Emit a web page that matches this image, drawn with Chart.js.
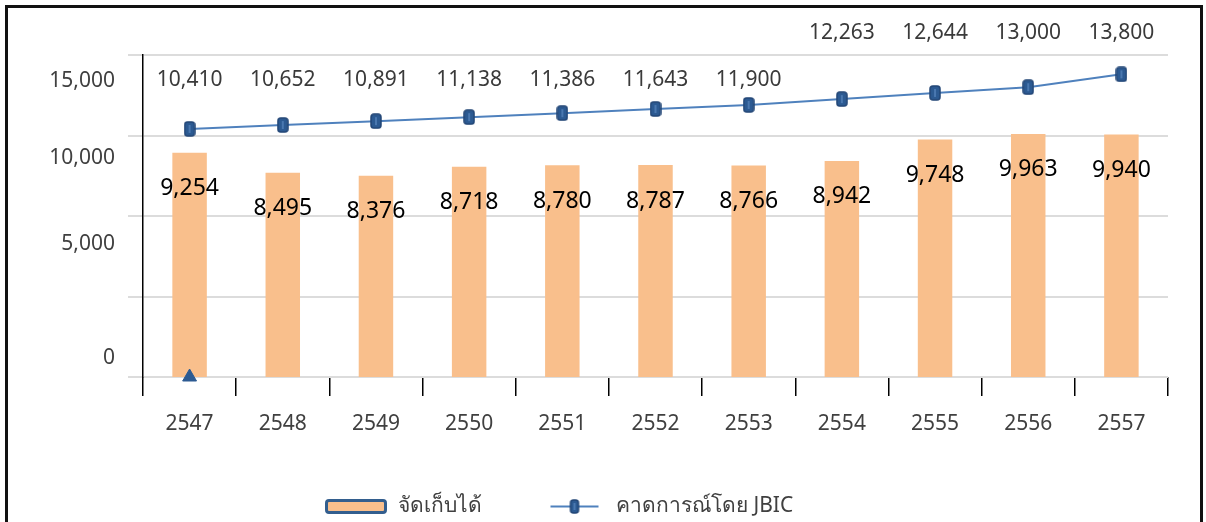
<!DOCTYPE html>
<html><head><meta charset="utf-8">
<script src="https://cdn.jsdelivr.net/npm/chart.js@4"></script>
<style>
html,body{margin:0;padding:0;background:#fff;overflow:hidden}
#wrap{position:relative;width:1206px;height:522px}
#frame{position:absolute;left:5px;top:5px;width:1198px;height:560px;border:3px solid #111;box-sizing:border-box;pointer-events:none}
canvas{position:absolute;left:0;top:0}
</style></head><body>
<div id="wrap"><canvas id="c" width="1206" height="522"></canvas><div id="frame"></div></div>
<script>
// ---- data ----
const years = ['2547','2548','2549','2550','2551','2552','2553','2554','2555','2556','2557'];
const collected = [9254, 8495, 8376, 8718, 8780, 8787, 8766, 8942, 9748, 9963, 9940];
const forecastJBIC = [10410, 10652, 10891, 11138, 11386, 11643, 11900, 12263, 12644, 13000, 13800];
const baseMarker = [0, null, null, null, null, null, null, null, null, null, null];
const yTickLabels = ['0', '5,000', '10,000', '15,000'];
const seriesNames = ['จัดเก็บได้', 'คาดการณ์โดย JBIC'];

const FONT = '"Noto Sans", "DejaVu Sans", sans-serif';
const fmt = v => v.toLocaleString('en-US');

function roundRect(g, x, y, w, h, r) {
  g.beginPath();
  g.moveTo(x + r, y); g.lineTo(x + w - r, y); g.quadraticCurveTo(x + w, y, x + w, y + r);
  g.lineTo(x + w, y + h - r); g.quadraticCurveTo(x + w, y + h, x + w - r, y + h);
  g.lineTo(x + r, y + h); g.quadraticCurveTo(x, y + h, x, y + h - r);
  g.lineTo(x, y + r); g.quadraticCurveTo(x, y, x + r, y); g.closePath();
}
function makeMarker(w, h) {
  const c = document.createElement('canvas'); c.width = w; c.height = h;
  const g = c.getContext('2d');
  roundRect(g, 1, 1, w - 2, h - 2, 3);
  g.fillStyle = '#2C5A92'; g.fill();
  g.lineWidth = 1.5; g.strokeStyle = '#224676'; g.stroke();
  g.fillStyle = '#4A78B0'; g.fillRect(w / 2 - 1, 4, 2, h - 8);
  return c;
}
function makeBarLegend() {
  const c = document.createElement('canvas'); c.width = 62; c.height = 15;
  const g = c.getContext('2d');
  roundRect(g, 1.5, 1.5, 59, 12, 2.5);
  g.fillStyle = '#F9BF8C'; g.fill();
  g.lineWidth = 3; g.strokeStyle = '#335E8E'; g.stroke();
  return c;
}
function makeLineLegend() {
  const c = document.createElement('canvas'); c.width = 52; c.height = 15;
  const g = c.getContext('2d');
  g.strokeStyle = '#4F81BD'; g.lineWidth = 2;
  g.beginPath(); g.moveTo(2, 7.5); g.lineTo(50, 7.5); g.stroke();
  const m = makeMarker(10, 15);
  g.drawImage(m, 21, 0);
  return c;
}
const markerImg = makeMarker(12, 16);
const barLegendImg = makeBarLegend();
const lineLegendImg = makeLineLegend();

const valueLabels = {
  id: 'valueLabels',
  afterDatasetsDraw(chart) {
    const ctx = chart.ctx, ca = chart.chartArea;
    const barMeta = chart.getDatasetMeta(1);
    const lineMeta = chart.getDatasetMeta(2);
    ctx.save();
    ctx.textAlign = 'center'; ctx.textBaseline = 'middle';
    ctx.font = '23px ' + FONT; ctx.fillStyle = '#000';
    barMeta.data.forEach((el, i) => ctx.fillText(fmt(collected[i]), el.x, el.y + 36));
    ctx.font = '21px ' + FONT; ctx.fillStyle = '#3a3a3a';
    lineMeta.data.forEach((el, i) => {
      const v = forecastJBIC[i];
      const y = v >= 12000 ? ca.top - 22 : ca.top + 25;
      ctx.fillText(fmt(v), el.x, y);
    });
    ctx.restore();
  }
};
const legendPlace = {
  id: 'legendPlace',
  afterLayout(chart) {
    const lg = chart.legend;
    if (!lg) return;
    const p = lg.options.labels.padding;
    lg.left = 325 - p;
    lg.top = 496 - p;
    lg.bottom = 522;
  }
};

new Chart(document.getElementById('c'), {
  data: {
    labels: years,
    datasets: [
      { type: 'line', label: 'base', data: baseMarker, yAxisID: 'y', showLine: false, clip: false,
        pointStyle: 'triangle', pointRadius: 8, pointBackgroundColor: '#2C5A92', pointBorderColor: '#2C5A92', order: 0 },
      { type: 'bar', label: seriesNames[0], data: collected, yAxisID: 'yBar',
        backgroundColor: '#F9BF8C', borderWidth: 0, barPercentage: 0.37, categoryPercentage: 1, order: 2 },
      { type: 'line', label: seriesNames[1], data: forecastJBIC, yAxisID: 'yLine',
        borderColor: '#4F81BD', borderWidth: 2, tension: 0, pointStyle: markerImg, pointRadius: 6, order: 1 }
    ]
  },
  options: {
    responsive: false, animation: false, events: [],
    layout: { padding: { left: 0, right: 38, top: 55, bottom: 0 } },
    font: { family: FONT },
    scales: {
      x: {
        offset: true,
        grid: { offset: true, drawOnChartArea: false, tickLength: 19, color: '#000', lineWidth: 1.5 },
        border: { display: false },
        afterFit: s => { s.height = 64; },
        ticks: { color: '#404040', font: { size: 21, family: FONT }, padding: 15 }
      },
      yl: {
        position: 'left', min: 0, max: 20000, weight: 2,
        grid: { display: false }, border: { display: false },
        afterBuildTicks: s => { s.ticks = [1150, 8250, 13600, 18380].map(v => ({ value: v })); },
        afterFit: s => { s.width = 128; },
        ticks: { color: '#404040', font: { size: 21, family: FONT }, padding: 5,
          callback: (v, i) => yTickLabels[i] }
      },
      y: {
        position: 'left', min: 0, max: 20000, weight: 1,
        ticks: { display: false, stepSize: 5000 },
        afterFit: s => { s.width = 15; },
        grid: { color: '#DCDCDC', lineWidth: 2, tickLength: 15 },
        border: { color: '#000', width: 1.5 }
      },
      yBar: { display: false, min: 768, max: 12947 },
      yLine: { display: false, min: -5000, max: 15000 }
    },
    plugins: {
      tooltip: { enabled: false },
      legend: {
        position: 'bottom', align: 'start', maxHeight: 81,
        labels: {
          usePointStyle: true, pointStyleWidth: 62, padding: 62,
          color: '#404040', font: { size: 21, family: FONT },
          generateLabels: chart => {
            return [1, 2].map(i => ({
              text: chart.data.datasets[i].label,
              pointStyle: i === 1 ? barLegendImg : lineLegendImg,
              fillStyle: 'transparent', strokeStyle: 'transparent', lineWidth: 0,
              datasetIndex: i, hidden: false, fontColor: '#404040'
            }));
          }
        }
      }
    }
  },
  plugins: [valueLabels, legendPlace]
});
</script>
</body></html>
